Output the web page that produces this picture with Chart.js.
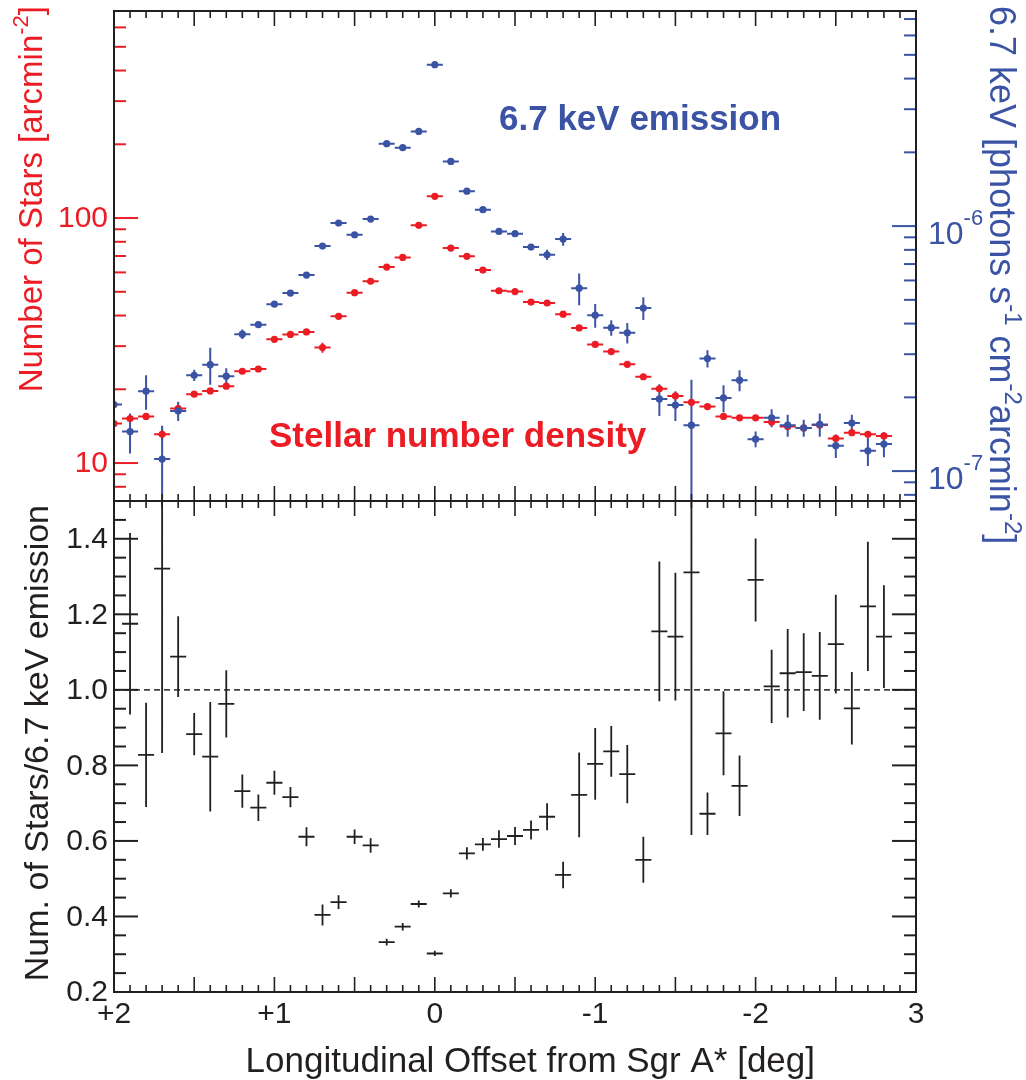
<!DOCTYPE html>
<html>
<head>
<meta charset="utf-8">
<script src="https://cdn.jsdelivr.net/npm/chart.js@4.4.1/dist/chart.umd.min.js"></script>
<style>
  body { margin: 0; background: #fff; }
  #wrap { position: relative; width: 1026px; height: 1080px; }
  canvas { position: absolute; left: 0; top: 0; }
</style>
</head>
<body>
<div id="wrap">
  <canvas id="ratioChart" width="1026" height="1080"></canvas>
  <canvas id="fluxChart" width="1026" height="1080"></canvas>
</div>
<script>
// longitude bins (deg), 0.1 deg wide
const offsets = [2.0, 1.9, 1.8, 1.7, 1.6, 1.5, 1.4, 1.3, 1.2, 1.1,
                 1.0, 0.9, 0.8, 0.7, 0.6, 0.5, 0.4, 0.3, 0.2, 0.1,
                 0.0, -0.1, -0.2, -0.3, -0.4, -0.5, -0.6, -0.7, -0.8, -0.9,
                 -1.0, -1.1, -1.2, -1.3, -1.4, -1.5, -1.6, -1.7, -1.8, -1.9,
                 -2.0, -2.1, -2.2, -2.3, -2.4, -2.5, -2.6, -2.7, -2.8];
const binHalfWidth = 0.05;

// stellar number density [arcmin^-2]
const starDensity = [14.5, 15.2, 15.5, 13.1, 16.7, 19.1, 19.7, 20.6, 23.7, 24.2,
                     32.0, 33.5, 34.3, 29.6, 39.7, 49.6, 55.2, 63.1, 69.1, 93.4,
                     122.6, 75.4, 69.8, 61.3, 50.5, 50.1, 45.4, 45.0, 40.5, 35.6,
                     30.5, 28.5, 25.3, 22.5, 20.1, 18.8, 17.7, 17.0, 15.5, 15.3,
                     15.3, 14.7, 14.1, 13.9, 14.3, 12.6, 13.3, 13.1, 12.9];
const starErr = [0.3, 0.3, 0.3, 0.7, 0.5, 0.4, 0.4, 0.4, 0.5, 0.5,
                 0.6, 0.6, 0.6, 1.4, 0.7, 0.8, 0.9, 1.0, 1.1, 1.3,
                 1.5, 1.1, 1.0, 1.0, 0.8, 0.8, 0.7, 0.7, 0.7, 0.6,
                 0.6, 0.5, 0.5, 0.4, 0.4, 0.5, 0.4, 0.3, 0.3, 0.3,
                 0.3, 0.3, 0.3, 0.3, 0.3, 0.3, 0.3, 0.3, 0.3];

// 6.7 keV line intensity, in units of 1e-6 photons s^-1 cm^-2 arcmin^-2
const emission = [0.187, 0.145, 0.212, 0.112, 0.176, 0.246, 0.272, 0.244, 0.362, 0.396,
                  0.480, 0.533, 0.631, 0.829, 1.029, 0.922, 1.068, 2.169, 2.089, 2.435,
                  4.558, 1.837, 1.389, 1.167, 0.951, 0.931, 0.821, 0.764, 0.885, 0.558,
                  0.433, 0.385, 0.367, 0.463, 0.197, 0.186, 0.154, 0.288, 0.199, 0.235,
                  0.135, 0.165, 0.154, 0.150, 0.155, 0.127, 0.157, 0.121, 0.129];
const emissionErr = [0.008, 0.027, 0.034, 0.041, 0.016, 0.013, 0.047, 0.019, 0.016, 0.012,
                     0.012, 0.012, 0.014, 0.020, 0.020, 0.020, 0.020, 0.035, 0.035, 0.040,
                     0.060, 0.030, 0.025, 0.020, 0.020, 0.020, 0.020, 0.037, 0.053, 0.083,
                     0.048, 0.028, 0.035, 0.049, 0.029, 0.026, 0.082, 0.023, 0.025, 0.023,
                     0.010, 0.014, 0.016, 0.012, 0.017, 0.014, 0.013, 0.016, 0.015];

// stars / 6.7 keV ratio (normalised)
const ratio = [null, 1.175, 0.828, 1.321, 1.088, 0.883, 0.823, 0.963, 0.732, 0.688,
               0.754, 0.716, 0.611, 0.404, 0.438, 0.611, 0.588, 0.332, 0.373, 0.433,
               0.302, 0.461, 0.567, 0.591, 0.605, 0.613, 0.629, 0.664, 0.510, 0.722,
               0.804, 0.837, 0.777, 0.550, 1.155, 1.141, 1.311, 0.672, 0.885, 0.746,
               1.291, 1.009, 1.044, 1.047, 1.037, 1.121, 0.951, 1.221, 1.141];
const ratioErr = [null, 0.240, 0.138, 0.488, 0.107, 0.056, 0.145, 0.089, 0.044, 0.035,
                  0.032, 0.027, 0.025, 0.028, 0.018, 0.019, 0.019, 0.009, 0.010, 0.009,
                  0.007, 0.011, 0.016, 0.017, 0.023, 0.024, 0.025, 0.036, 0.035, 0.112,
                  0.095, 0.067, 0.077, 0.061, 0.185, 0.169, 0.695, 0.056, 0.111, 0.080,
                  0.110, 0.097, 0.117, 0.103, 0.116, 0.131, 0.096, 0.171, 0.136];
const unityLevel = 1.0;

// axis ranges and tick labels
const offsetRange = [-3, 2];
const offsetTicks = [2, 1, 0, -1, -2, -3];
const offsetTickLabels = ['+2', '+1', '0', '-1', '-2', '3'];
const starRange = [7, 700];
const starTicks = [10, 100];
const starTickLabels = ['10', '100'];
const emissionRange = [0.0755, 7.55];
const emissionTicks = [0.1, 1];
const emissionTickExp = ['-7', '-6'];
const ratioRange = [0.2, 1.5];
const ratioTicks = [0.2, 0.4, 0.6, 0.8, 1.0, 1.2, 1.4];
const ratioTickLabels = ['0.2', '0.4', '0.6', '0.8', '1.0', '1.2', '1.4'];

const RED = '#ec1c24';
const BLUE = '#3a53a4';
const INK = '#231f20';
const FONT = "'Liberation Sans', Arial, Helvetica, sans-serif";

function points(xs, ys) {
  return xs.map((x, i) => ({ x: x, y: ys[i] })).filter(p => p.y !== null);
}

// cross-shaped error bars, each arm a separate line segment
function errorBars(xs, ys, errs) {
  const pts = [];
  xs.forEach((x, i) => {
    if (ys[i] === null) return;
    pts.push({ x: x + binHalfWidth, y: ys[i] }, { x: x - binHalfWidth, y: ys[i] }, { x: x, y: null });
    pts.push({ x: x, y: ys[i] - errs[i] }, { x: x, y: ys[i] + errs[i] }, { x: x, y: null });
  });
  return pts;
}

function line(ctx, x1, y1, x2, y2) {
  ctx.beginPath(); ctx.moveTo(x1, y1); ctx.lineTo(x2, y2); ctx.stroke();
}

function drawOffsetTicks(chart) {
  const ctx = chart.ctx, a = chart.chartArea, xs = chart.scales.x;
  ctx.strokeStyle = INK; ctx.lineWidth = 1.6;
  for (let i = offsetRange[0] * 10; i <= offsetRange[1] * 10; i++) {
    const px = xs.getPixelForValue(i / 10);
    const len = i % 5 === 0 ? 15 : 7;
    line(ctx, px, a.top, px, a.top + len);
    line(ctx, px, a.bottom, px, a.bottom - len);
  }
}

function drawLogTicks(ctx, scale, edge, dir) {
  const e0 = Math.floor(Math.log10(scale.min)), e1 = Math.ceil(Math.log10(scale.max));
  for (let e = e0; e <= e1; e++) {
    for (let m = 1; m <= 9; m++) {
      const v = m * Math.pow(10, e);
      if (v < scale.min || v > scale.max) continue;
      const py = scale.getPixelForValue(v);
      line(ctx, edge, py, edge + dir * (m === 1 ? 24 : 12), py);
    }
  }
}

function drawFrame(chart) {
  const ctx = chart.ctx, a = chart.chartArea;
  ctx.strokeStyle = INK; ctx.lineWidth = 2;
  ctx.strokeRect(a.left, a.top, a.right - a.left, a.bottom - a.top);
}

// text with superscript pieces, optionally rotated
function richText(ctx, parts, x, y, angle, align, size, color, weight, supRaise) {
  const supSize = Math.round(size * 0.68);
  const w = weight || 'normal';
  const raise = supRaise || 0.42;
  ctx.save();
  ctx.translate(x, y);
  ctx.rotate(angle);
  let total = 0;
  parts.forEach(p => {
    ctx.font = w + ' ' + (p.sup ? supSize : size) + 'px ' + FONT;
    p.w = ctx.measureText(p.t).width;
    total += p.w;
  });
  let cx = align === 'right' ? -total : 0;
  ctx.fillStyle = color; ctx.textAlign = 'left'; ctx.textBaseline = 'alphabetic';
  parts.forEach(p => {
    ctx.font = w + ' ' + (p.sup ? supSize : size) + 'px ' + FONT;
    ctx.fillText(p.t, cx, p.sup ? -size * raise : 0);
    cx += p.w;
  });
  ctx.restore();
}

const fluxAxes = {
  id: 'fluxAxes',
  afterDraw(chart) {
    const ctx = chart.ctx, a = chart.chartArea;
    const ys = chart.scales.yStars, ye = chart.scales.yEm;
    ctx.save();
    drawOffsetTicks(chart);
    ctx.lineWidth = 2;
    ctx.strokeStyle = RED; drawLogTicks(ctx, ys, a.left, 1);
    ctx.strokeStyle = BLUE; drawLogTicks(ctx, ye, a.right, -1);
    drawFrame(chart);

    ctx.font = '30px ' + FONT; ctx.textBaseline = 'middle';
    ctx.fillStyle = RED; ctx.textAlign = 'right';
    starTicks.forEach((v, i) => ctx.fillText(starTickLabels[i], a.left - 6, ys.getPixelForValue(v) + 1));
    emissionTicks.forEach((v, i) => {
      const py = ye.getPixelForValue(v);
      richText(ctx, [{ t: '10' }, { t: emissionTickExp[i], sup: true }], a.right + 12, py + 18, 0, 'left', 32, BLUE, 'normal', 0.6);
    });

    richText(ctx, [{ t: 'Number of Stars [arcmin' }, { t: '-2', sup: true }, { t: ']' }],
      42, 6, -Math.PI / 2, 'right', 33, RED);
    richText(ctx, [{ t: '6.7 keV [photons s' }, { t: '-1', sup: true }, { t: ' cm' }, { t: '-2', sup: true },
      { t: 'arcmin' }, { t: '-2', sup: true }, { t: ']' }],
      990, 6, Math.PI / 2, 'left', 36, BLUE);

    richText(ctx, [{ t: '6.7 keV emission' }], 499, 130, 0, 'left', 35, BLUE, 'bold');
    richText(ctx, [{ t: 'Stellar number density' }], 269, 447, 0, 'left', 35, RED, 'bold');
    ctx.restore();
  }
};

const ratioAxes = {
  id: 'ratioAxes',
  afterDraw(chart) {
    const ctx = chart.ctx, a = chart.chartArea;
    const yr = chart.scales.yRatio, xs = chart.scales.x;
    ctx.save();
    drawOffsetTicks(chart);
    ctx.strokeStyle = INK; ctx.lineWidth = 2;
    for (let i = Math.round(ratioRange[0] * 20); i <= Math.round(ratioRange[1] * 20); i++) {
      const py = yr.getPixelForValue(i / 20);
      const len = i % 4 === 0 ? 24 : 12;
      line(ctx, a.left, py, a.left + len, py);
      line(ctx, a.right, py, a.right - len, py);
    }
    drawFrame(chart);

    ctx.font = '30px ' + FONT; ctx.fillStyle = INK;
    ctx.textBaseline = 'middle'; ctx.textAlign = 'right';
    ratioTicks.forEach((v, i) => ctx.fillText(ratioTickLabels[i], a.left - 6, yr.getPixelForValue(v) + 1));
    ctx.textAlign = 'center';
    offsetTicks.forEach((v, i) => ctx.fillText(offsetTickLabels[i], xs.getPixelForValue(v), a.bottom + 23));

    richText(ctx, [{ t: 'Num. of Stars/6.7 keV emission' }], 48, 505, -Math.PI / 2, 'right', 34, INK);
    richText(ctx, [{ t: 'Longitudinal Offset from Sgr A* [deg]' }], 815, 1072, 0, 'right', 35, INK);
    ctx.restore();
  }
};

const xScale = { type: 'linear', min: offsetRange[0], max: offsetRange[1], reverse: true, display: false };
const common = {
  responsive: false,
  animation: false,
  devicePixelRatio: 1,
  events: [],
  plugins: { legend: { display: false }, tooltip: { enabled: false } }
};

new Chart(document.getElementById('fluxChart'), {
  type: 'scatter',
  data: {
    datasets: [
      { data: points(offsets, emission), yAxisID: 'yEm', pointRadius: 3.6, pointBorderWidth: 0,
        pointBackgroundColor: BLUE, order: 0 },
      { data: points(offsets, starDensity), yAxisID: 'yStars', pointRadius: 3.6, pointBorderWidth: 0,
        pointBackgroundColor: RED, order: 1 },
      { type: 'line', data: errorBars(offsets, emission, emissionErr), yAxisID: 'yEm', showLine: true,
        spanGaps: false, pointRadius: 0, borderColor: BLUE, borderWidth: 2, order: 2 },
      { type: 'line', data: errorBars(offsets, starDensity, starErr), yAxisID: 'yStars', showLine: true,
        spanGaps: false, pointRadius: 0, borderColor: RED, borderWidth: 2, order: 3 }
    ]
  },
  options: Object.assign({}, common, {
    layout: { padding: { left: 114, right: 110, top: 11, bottom: 579 } },
    scales: {
      x: xScale,
      yStars: { type: 'logarithmic', position: 'left', min: starRange[0], max: starRange[1], display: false },
      yEm: { type: 'logarithmic', position: 'right', min: emissionRange[0], max: emissionRange[1], display: false }
    }
  }),
  plugins: [fluxAxes]
});

new Chart(document.getElementById('ratioChart'), {
  type: 'scatter',
  data: {
    datasets: [
      { type: 'line', data: errorBars(offsets, ratio, ratioErr), yAxisID: 'yRatio', showLine: true,
        spanGaps: false, pointRadius: 0, borderColor: INK, borderWidth: 1.8 },
      { type: 'line', data: [{ x: offsetRange[1], y: unityLevel }, { x: offsetRange[0], y: unityLevel }],
        yAxisID: 'yRatio', pointRadius: 0, borderColor: '#444', borderWidth: 1.6, borderDash: [6, 4] }
    ]
  },
  options: Object.assign({}, common, {
    layout: { padding: { left: 114, right: 110, top: 501, bottom: 88 } },
    scales: {
      x: xScale,
      yRatio: { type: 'linear', position: 'left', min: ratioRange[0], max: ratioRange[1], display: false }
    }
  }),
  plugins: [ratioAxes]
});
</script>
</body>
</html>
